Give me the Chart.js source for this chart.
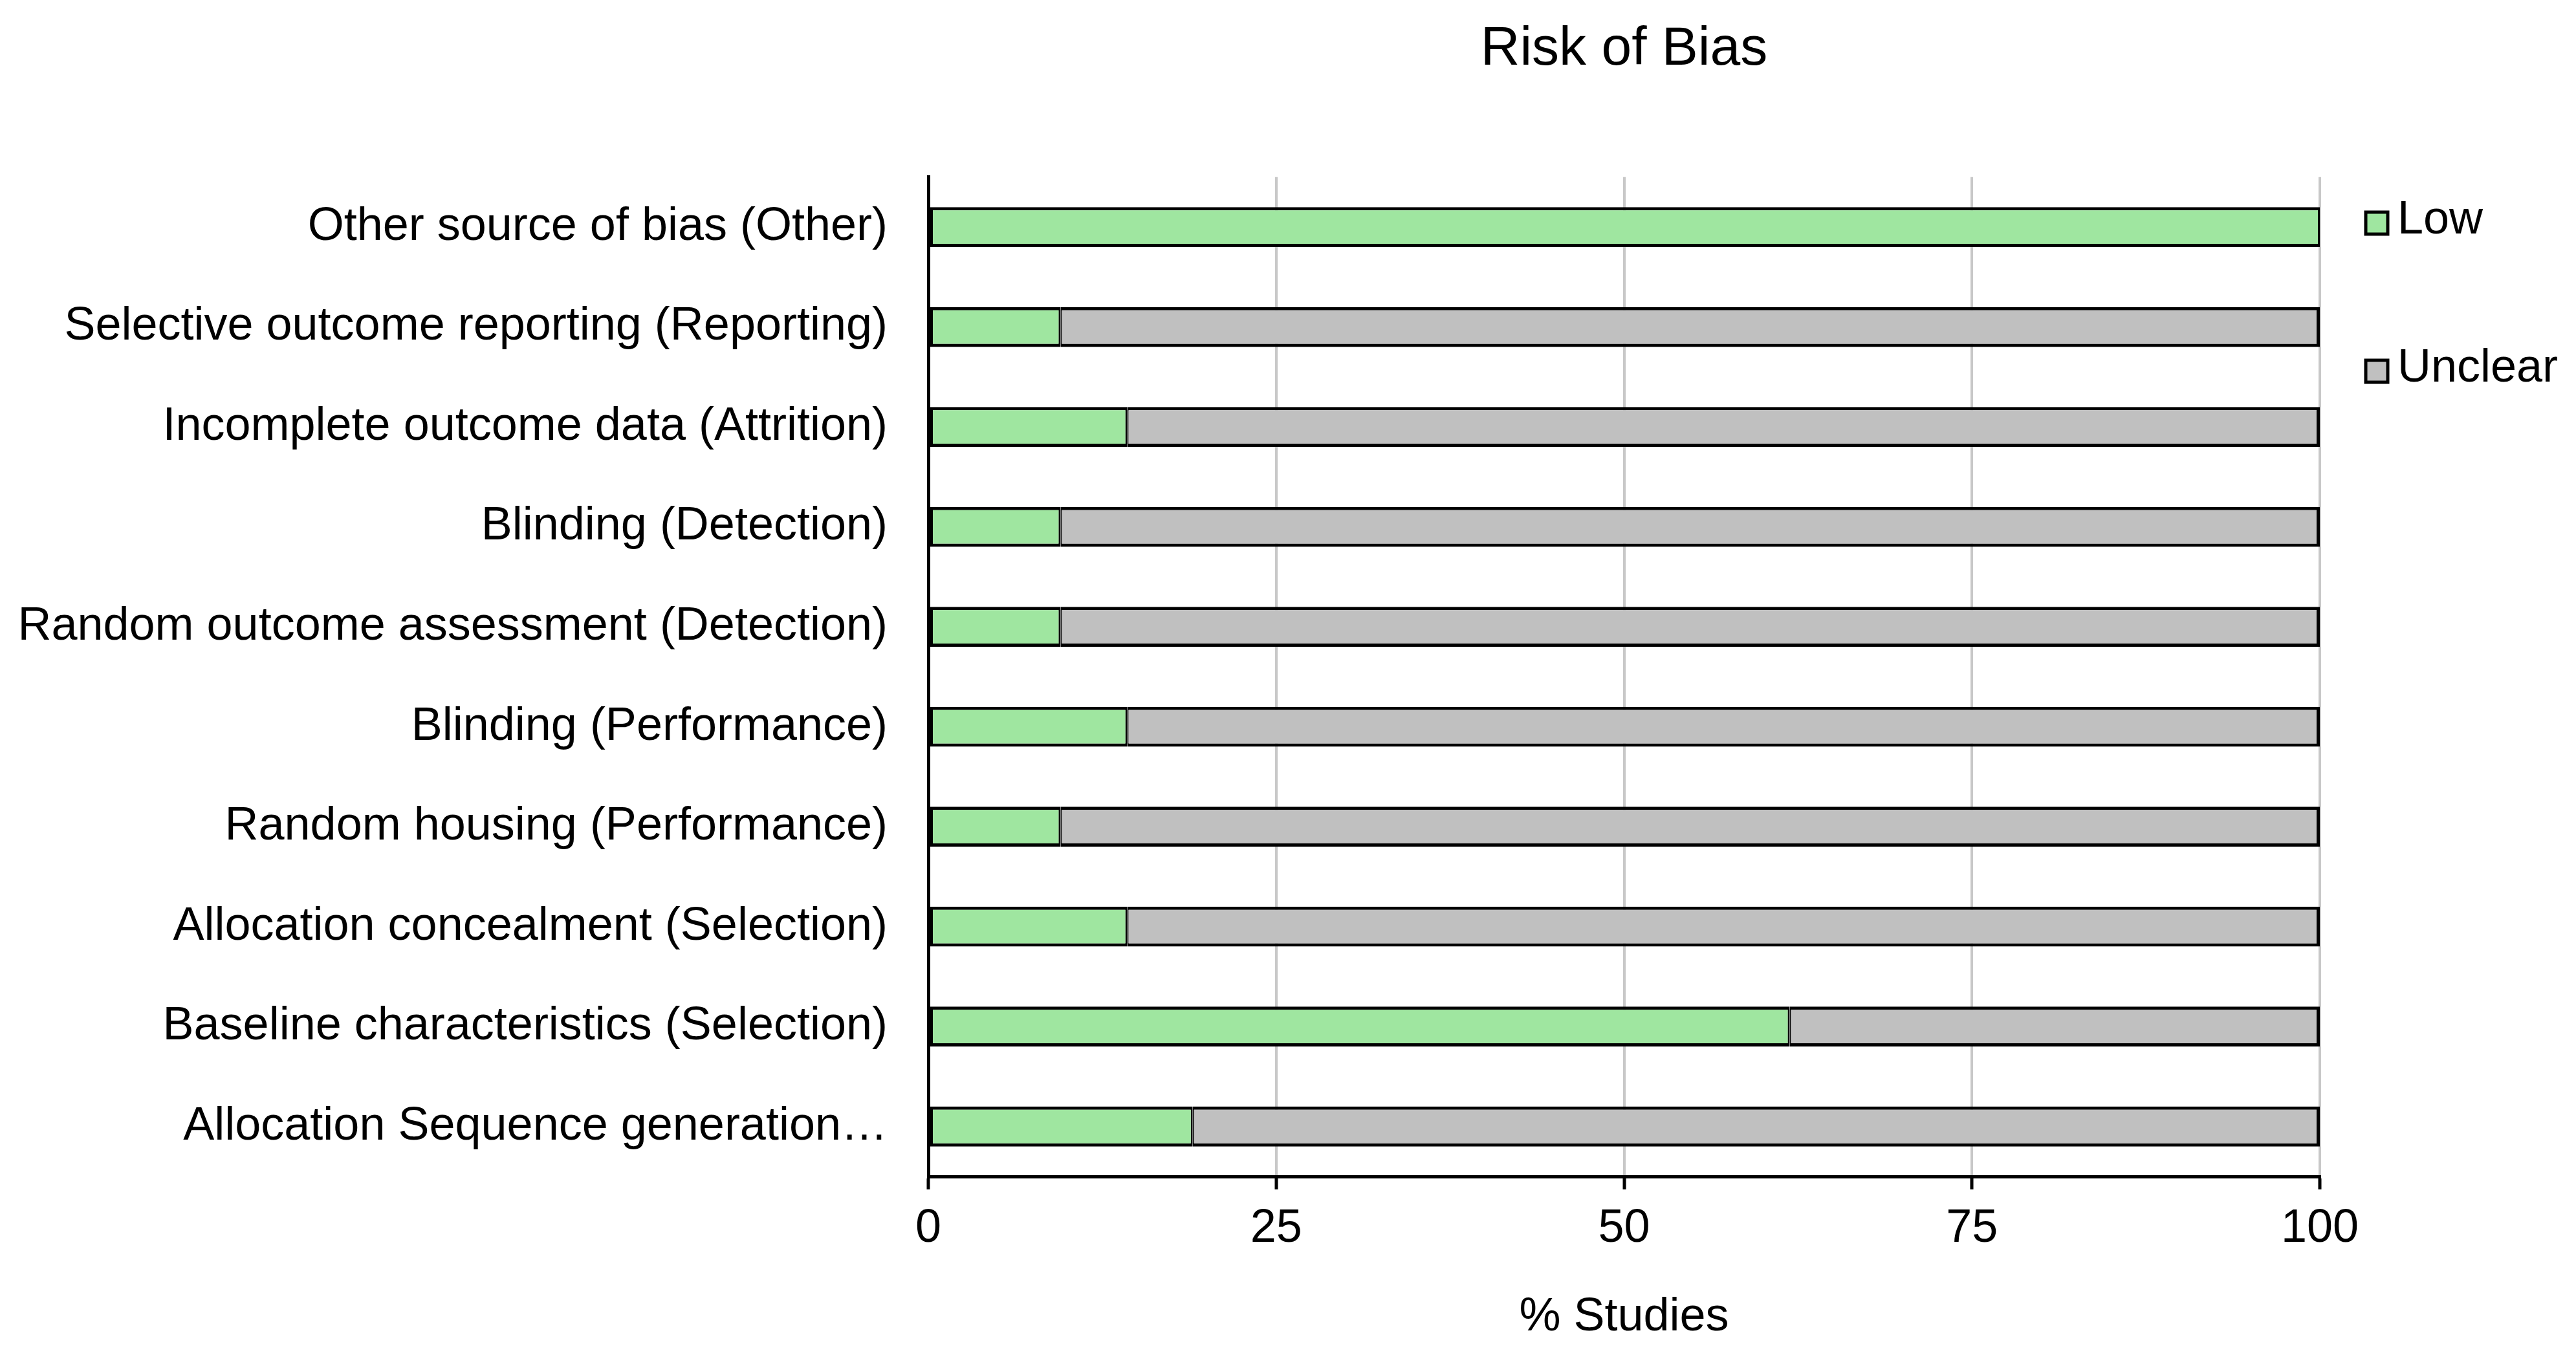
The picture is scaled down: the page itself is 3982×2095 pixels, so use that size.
<!DOCTYPE html>
<html>
<head>
<meta charset="utf-8">
<script src="https://cdn.jsdelivr.net/npm/chart.js@4.4.1/dist/chart.umd.min.js"></script>
<style>
  html, body { margin: 0; padding: 0; background: #fff; }
  canvas { display: block; }
</style>
</head>
<body>
<canvas id="robChart" width="3982" height="2095"></canvas>
<script>
// categories, top to bottom
const domains = [
  "Other source of bias (Other)",
  "Selective outcome reporting (Reporting)",
  "Incomplete outcome data (Attrition)",
  "Blinding (Detection)",
  "Random outcome assessment (Detection)",
  "Blinding (Performance)",
  "Random housing (Performance)",
  "Allocation concealment (Selection)",
  "Baseline characteristics (Selection)",
  "Allocation Sequence generation\u2026"
];

// % studies per judgement
const lowRisk     = [100, 9.5, 14.3, 9.5, 9.5, 14.3, 9.5, 14.3, 61.9, 19.0];
const unclearRisk = [0, 90.5, 85.7, 90.5, 90.5, 85.7, 90.5, 85.7, 38.1, 81.0];

const xTicks = [0, 25, 50, 75, 100];

const FONT = "'Liberation Sans', Arial, sans-serif";

// simple legend to the right of the plot
const sideLegend = {
  id: "sideLegend",
  afterDraw(chart) {
    const ctx = chart.ctx;
    const rows = [345, 574];
    ctx.save();
    ctx.font = "72px " + FONT;
    ctx.textBaseline = "middle";
    ctx.textAlign = "left";
    chart.data.datasets.forEach((ds, i) => {
      const y = rows[i];
      ctx.fillStyle = ds.backgroundColor;
      ctx.fillRect(3657, y - 17, 34, 34);
      ctx.lineWidth = 5;
      ctx.strokeStyle = "#000";
      ctx.strokeRect(3657, y - 17, 34, 34);
      ctx.fillStyle = "#000";
      ctx.fillText(ds.label, 3706, y - 4);
    });
    ctx.restore();
  }
};

new Chart(document.getElementById("robChart").getContext("2d"), {
  type: "bar",
  data: {
    labels: domains,
    datasets: [
      {
        label: "Low",
        data: lowRisk,
        backgroundColor: "#9fe6a0",
        borderColor: "#000",
        borderWidth: { top: 5, bottom: 5, left: 5, right: 3 },
        borderSkipped: false
      },
      {
        label: "Unclear",
        data: unclearRisk,
        backgroundColor: "#c0c0c0",
        borderColor: "#000",
        borderWidth: { top: 5, bottom: 5, left: 2, right: 5 },
        borderSkipped: false
      }
    ]
  },
  options: {
    indexAxis: "y",
    responsive: false,
    animation: false,
    devicePixelRatio: 1,
    layout: { padding: { left: 0, right: 396, top: 0, bottom: 0 } },
    datasets: { bar: { barPercentage: 0.4, categoryPercentage: 1.0 } },
    plugins: {
      legend: { display: false },
      tooltip: { enabled: false },
      title: {
        display: true,
        text: "Risk of Bias",
        fullSize: false,
        color: "#000",
        font: { family: FONT, size: 84, weight: "normal", lineHeight: 1.2 },
        padding: { top: 26, bottom: 147 }
      }
    },
    scales: {
      x: {
        stacked: true,
        min: 0,
        max: 100,
        afterBuildTicks: s => { s.ticks = xTicks.map(v => ({ value: v })); },
        afterFit: s => { s.height = 276; },
        grid: {
          color: "#c8c8c8",
          lineWidth: 4,
          tickColor: "#000",
          tickLength: 20,
          tickWidth: 5
        },
        border: { display: true, color: "#000", width: 5 },
        ticks: {
          color: "#000",
          padding: 18,
          maxRotation: 0,
          font: { family: FONT, size: 72 }
        },
        title: {
          display: true,
          text: "% Studies",
          color: "#000",
          font: { family: FONT, size: 72 },
          padding: { top: 0, bottom: 15 }
        }
      },
      y: {
        stacked: true,
        afterFit: s => { s.width = 1435; },
        grid: { display: false, drawTicks: false },
        border: { display: true, color: "#000", width: 5 },
        ticks: {
          color: "#000",
          padding: 63,
          autoSkip: false,
          font: { family: FONT, size: 72 }
        }
      }
    }
  },
  plugins: [sideLegend]
});
</script>
</body>
</html>
